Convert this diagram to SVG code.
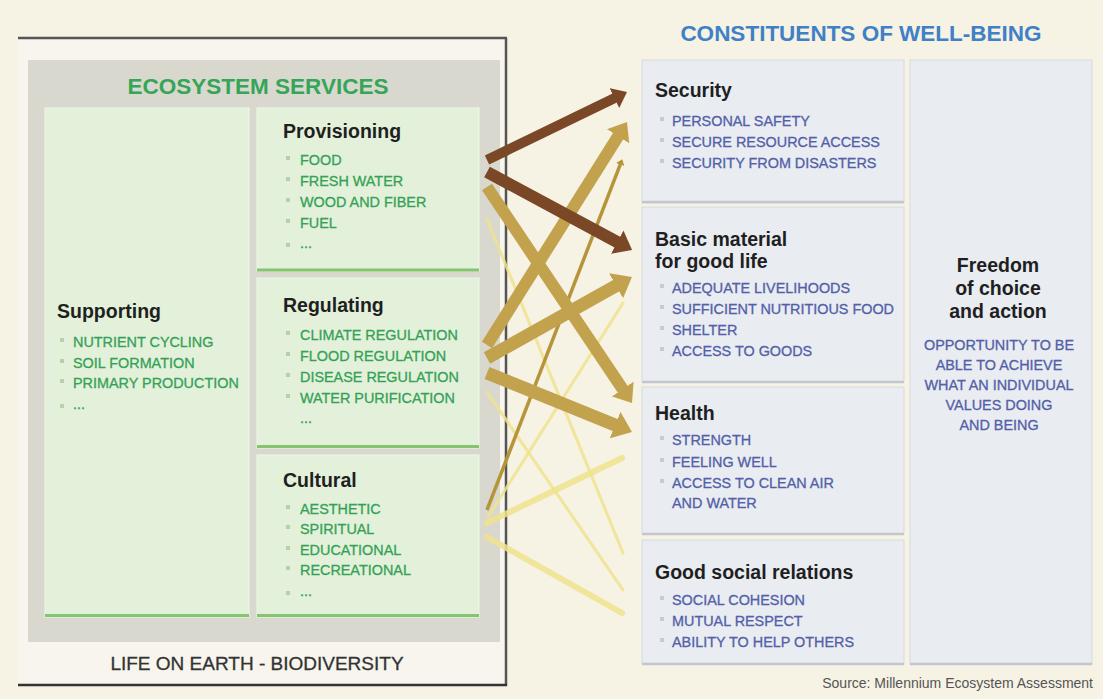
<svg xmlns="http://www.w3.org/2000/svg" width="1103" height="699" viewBox="0 0 1103 699">
<style>
  text { font-family: "Liberation Sans", Arial, sans-serif; }
  .head { font-size: 19.5px; font-weight: bold; fill: #1f1f1f; }
  .gi { font-size: 14.4px; fill: #35a157; stroke: #35a157; stroke-width: 0.3; }
  .bi { font-size: 14.4px; fill: #5260a8; stroke: #5260a8; stroke-width: 0.3; }
  .gbul { fill: #b9cfa8; }
  .bbul { fill: #c7cad2; }
  .gbox { fill: #e3f1da; stroke: #eef7e8; stroke-width: 1; }
  .gline { stroke: #86c570; stroke-width: 3; }
  .bbox { fill: #e9ecf1; stroke: #d6d9df; stroke-width: 1; }
  .bshadow { stroke: #c3c7cd; stroke-width: 2.5; }
  .brown { stroke: #7a4826; fill: none; stroke-linecap: butt; }
  .tan { stroke: #c2a24c; fill: none; stroke-linecap: butt; }
  .ochre { stroke: #b6953a; fill: none; }
  .yel { stroke: #efe38c; fill: none; stroke-linecap: round; opacity: 0.85; }
</style>
<defs>
  <marker id="ah-brown" viewBox="0 0 14 22" refX="1" refY="11" markerWidth="1.4" markerHeight="2.2" orient="auto" markerUnits="strokeWidth">
    <path d="M0,0 L14,11 L0,22 z" fill="#7a4826"/>
  </marker>
  <marker id="ah-tan" viewBox="0 0 14 22" refX="1" refY="11" markerWidth="1.4" markerHeight="2.2" orient="auto" markerUnits="strokeWidth">
    <path d="M0,0 L14,11 L0,22 z" fill="#c2a24c"/>
  </marker>
  <marker id="ah-ochre" viewBox="0 0 14 22" refX="1" refY="11" markerWidth="1.6" markerHeight="2.6" orient="auto" markerUnits="strokeWidth">
    <path d="M0,0 L14,11 L0,22 z" fill="#b6953a"/>
  </marker>
</defs>

<rect x="0" y="0" width="1103" height="699" fill="#f6f2e4"/>

<g id="frame">
  <rect x="18" y="38" width="488" height="647" fill="#f7f5ed"/>
  <rect x="28" y="60" width="472" height="582" fill="#d9d8cf"/>
  <line x1="18" y1="38" x2="507" y2="38" stroke="#555" stroke-width="2.5"/>
  <line x1="506" y1="38" x2="506" y2="686" stroke="#555" stroke-width="2.5"/>
  <line x1="18" y1="685" x2="507" y2="685" stroke="#333" stroke-width="2.5"/>
  <text x="258" y="94" text-anchor="middle" font-size="22.5" font-weight="bold" fill="#35a558">ECOSYSTEM SERVICES</text>
  <text x="257" y="670" text-anchor="middle" font-size="19" fill="#333" stroke="#333" stroke-width="0.3">LIFE ON EARTH - BIODIVERSITY</text>
</g>

<g id="supporting">
  <rect class="gbox" x="45" y="108" width="204" height="509"/>
  <line class="gline" x1="45" y1="615.5" x2="249" y2="615.5"/>
  <text class="head" x="57" y="318">Supporting</text>
  <rect class="gbul" x="60" y="338" width="4" height="4"/>
  <text class="gi" x="73" y="347">NUTRIENT CYCLING</text>
  <rect class="gbul" x="60" y="359" width="4" height="4"/>
  <text class="gi" x="73" y="368">SOIL FORMATION</text>
  <rect class="gbul" x="60" y="379" width="4" height="4"/>
  <text class="gi" x="73" y="388">PRIMARY PRODUCTION</text>
  <rect class="gbul" x="60" y="404" width="4" height="4"/>
  <text class="gi" x="73" y="409">...</text>
</g>

<g id="provisioning">
  <rect class="gbox" x="257" y="108" width="222" height="163"/>
  <line class="gline" x1="257" y1="270" x2="479" y2="270"/>
  <text class="head" x="283" y="138">Provisioning</text>
  <rect class="gbul" x="286" y="156" width="4" height="4"/>
  <text class="gi" x="300" y="165">FOOD</text>
  <rect class="gbul" x="286" y="177" width="4" height="4"/>
  <text class="gi" x="300" y="186">FRESH WATER</text>
  <rect class="gbul" x="286" y="198" width="4" height="4"/>
  <text class="gi" x="300" y="207">WOOD AND FIBER</text>
  <rect class="gbul" x="286" y="219" width="4" height="4"/>
  <text class="gi" x="300" y="228">FUEL</text>
  <rect class="gbul" x="286" y="243" width="4" height="4"/>
  <text class="gi" x="300" y="248">...</text>
</g>

<g id="regulating">
  <rect class="gbox" x="257" y="278" width="222" height="170"/>
  <line class="gline" x1="257" y1="446.5" x2="479" y2="446.5"/>
  <text class="head" x="283" y="312">Regulating</text>
  <rect class="gbul" x="286" y="331" width="4" height="4"/>
  <text class="gi" x="300" y="340">CLIMATE REGULATION</text>
  <rect class="gbul" x="286" y="352" width="4" height="4"/>
  <text class="gi" x="300" y="361">FLOOD REGULATION</text>
  <rect class="gbul" x="286" y="373" width="4" height="4"/>
  <text class="gi" x="300" y="382">DISEASE REGULATION</text>
  <rect class="gbul" x="286" y="394" width="4" height="4"/>
  <text class="gi" x="300" y="403">WATER PURIFICATION</text>
  <text class="gi" x="300" y="423">...</text>
</g>

<g id="cultural">
  <rect class="gbox" x="257" y="455" width="222" height="162"/>
  <line class="gline" x1="257" y1="615.5" x2="479" y2="615.5"/>
  <text class="head" x="283" y="487">Cultural</text>
  <rect class="gbul" x="286" y="505" width="4" height="4"/>
  <text class="gi" x="300" y="514">AESTHETIC</text>
  <rect class="gbul" x="286" y="525" width="4" height="4"/>
  <text class="gi" x="300" y="534">SPIRITUAL</text>
  <rect class="gbul" x="286" y="546" width="4" height="4"/>
  <text class="gi" x="300" y="555">EDUCATIONAL</text>
  <rect class="gbul" x="286" y="566" width="4" height="4"/>
  <text class="gi" x="300" y="575">RECREATIONAL</text>
  <rect class="gbul" x="286" y="591" width="4" height="4"/>
  <text class="gi" x="300" y="596">...</text>
</g>

<text x="861" y="41" text-anchor="middle" font-size="22.5" font-weight="bold" fill="#3f80c6">CONSTITUENTS OF WELL-BEING</text>

<g id="security">
  <rect class="bbox" x="642" y="60" width="262" height="143"/>
  <line class="bshadow" x1="642" y1="202" x2="904" y2="202"/>
  <text class="head" x="655" y="97">Security</text>
  <rect class="bbul" x="660" y="117" width="4" height="4"/>
  <text class="bi" x="672" y="126">PERSONAL SAFETY</text>
  <rect class="bbul" x="660" y="138" width="4" height="4"/>
  <text class="bi" x="672" y="147">SECURE RESOURCE ACCESS</text>
  <rect class="bbul" x="660" y="159" width="4" height="4"/>
  <text class="bi" x="672" y="168">SECURITY FROM DISASTERS</text>
</g>

<g id="basic-material">
  <rect class="bbox" x="642" y="207" width="262" height="175"/>
  <line class="bshadow" x1="642" y1="382" x2="904" y2="382"/>
  <text class="head" x="655" y="246">Basic material</text>
  <text class="head" x="655" y="268">for good life</text>
  <rect class="bbul" x="660" y="284" width="4" height="4"/>
  <text class="bi" x="672" y="293">ADEQUATE LIVELIHOODS</text>
  <rect class="bbul" x="660" y="305" width="4" height="4"/>
  <text class="bi" x="672" y="314">SUFFICIENT NUTRITIOUS FOOD</text>
  <rect class="bbul" x="660" y="326" width="4" height="4"/>
  <text class="bi" x="672" y="335">SHELTER</text>
  <rect class="bbul" x="660" y="347" width="4" height="4"/>
  <text class="bi" x="672" y="356">ACCESS TO GOODS</text>
</g>

<g id="health">
  <rect class="bbox" x="642" y="387" width="262" height="147"/>
  <line class="bshadow" x1="642" y1="534" x2="904" y2="534"/>
  <text class="head" x="655" y="420">Health</text>
  <rect class="bbul" x="660" y="436" width="4" height="4"/>
  <text class="bi" x="672" y="445">STRENGTH</text>
  <rect class="bbul" x="660" y="458" width="4" height="4"/>
  <text class="bi" x="672" y="467">FEELING WELL</text>
  <rect class="bbul" x="660" y="479" width="4" height="4"/>
  <text class="bi" x="672" y="488">ACCESS TO CLEAN AIR</text>
  <text class="bi" x="672" y="508">AND WATER</text>
</g>

<g id="social-relations">
  <rect class="bbox" x="642" y="540" width="262" height="124"/>
  <line class="bshadow" x1="642" y1="664" x2="904" y2="664"/>
  <text class="head" x="655" y="579">Good social relations</text>
  <rect class="bbul" x="660" y="596" width="4" height="4"/>
  <text class="bi" x="672" y="605">SOCIAL COHESION</text>
  <rect class="bbul" x="660" y="617" width="4" height="4"/>
  <text class="bi" x="672" y="626">MUTUAL RESPECT</text>
  <rect class="bbul" x="660" y="638" width="4" height="4"/>
  <text class="bi" x="672" y="647">ABILITY TO HELP OTHERS</text>
</g>

<g id="freedom">
  <rect class="bbox" x="910" y="60" width="182" height="604"/>
  <line class="bshadow" x1="910" y1="664" x2="1092" y2="664"/>
  <text class="head" x="998" y="272" text-anchor="middle" font-size="20">Freedom</text>
  <text class="head" x="998" y="295" text-anchor="middle" font-size="20">of choice</text>
  <text class="head" x="998" y="318" text-anchor="middle" font-size="20">and action</text>
  <text class="bi" x="999" y="350" text-anchor="middle">OPPORTUNITY TO BE</text>
  <text class="bi" x="999" y="370" text-anchor="middle">ABLE TO ACHIEVE</text>
  <text class="bi" x="999" y="390" text-anchor="middle">WHAT AN INDIVIDUAL</text>
  <text class="bi" x="999" y="410" text-anchor="middle">VALUES DOING</text>
  <text class="bi" x="999" y="430" text-anchor="middle">AND BEING</text>
</g>

<text x="1093" y="688" text-anchor="end" font-size="14" fill="#555">Source: Millennium Ecosystem Assessment</text>

<g id="connectors">
  <line class="yel" x1="487" y1="219" x2="623" y2="553" stroke-width="3"/>
  <line class="yel" x1="487" y1="392" x2="623" y2="590" stroke-width="3"/>
  <line class="yel" x1="488" y1="517" x2="623" y2="303" stroke-width="3"/>
  <line class="yel" x1="487" y1="523" x2="622" y2="458" stroke-width="6"/>
  <line class="yel" x1="487" y1="537" x2="622" y2="613" stroke-width="6"/>
  <line class="ochre" x1="487" y1="510" x2="620.4" y2="164.2" stroke-width="3.5" marker-end="url(#ah-ochre)"/>
  <line class="tan" x1="487" y1="345" x2="618.7" y2="135.2" stroke-width="12" marker-end="url(#ah-tan)"/>
  <line class="tan" x1="487" y1="358" x2="617.2" y2="285.2" stroke-width="13" marker-end="url(#ah-tan)"/>
  <line class="tan" x1="487" y1="187" x2="623.3" y2="390.1" stroke-width="12" marker-end="url(#ah-tan)"/>
  <line class="tan" x1="487" y1="373" x2="616.3" y2="425.6" stroke-width="13" marker-end="url(#ah-tan)"/>
  <line class="brown" x1="487" y1="160" x2="615.3" y2="97.7" stroke-width="10" marker-end="url(#ah-brown)"/>
  <line class="brown" x1="487" y1="172" x2="618.3" y2="242.6" stroke-width="12" marker-end="url(#ah-brown)"/>
</g>
</svg>
